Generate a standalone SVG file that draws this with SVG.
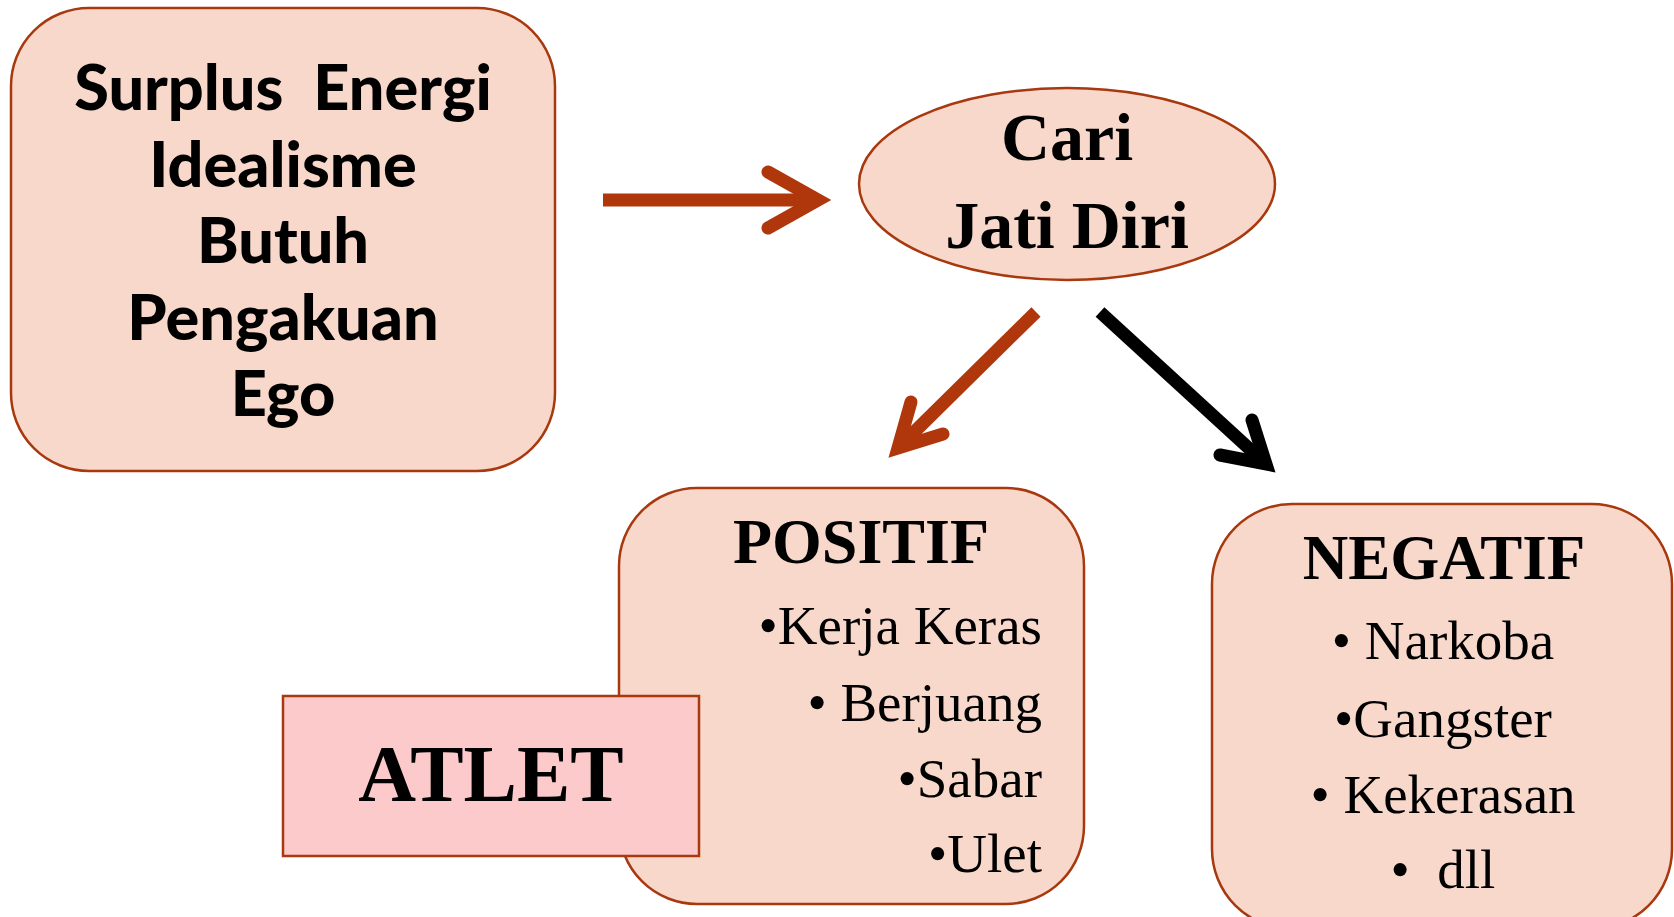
<svg xmlns="http://www.w3.org/2000/svg" width="1674" height="917" viewBox="0 0 1674 917">
<style>
.box{fill:#F8D8CB;stroke:#A8380E;stroke-width:2.5}
.atl{fill:#FCCACA;stroke:#A8380E;stroke-width:2.5}
.hd{font-family:"Lato","Open Sans",sans-serif;font-weight:900;font-size:63px;fill:#000;text-anchor:middle}
.ser{font-family:"Liberation Serif","Times New Roman",serif;fill:#000}
.b{font-weight:bold}
.red{stroke:#B0360C;fill:none;stroke-width:13}
.blk{stroke:#000;fill:none;stroke-width:13}
</style>
<g id="node-surplus">
<rect class="box" x="11" y="8" width="544" height="463" rx="78" ry="78"/>
<text class="hd" x="283" y="110" xml:space="preserve">Surplus  Energi</text>
<text class="hd" x="283" y="187">Idealisme</text>
<text class="hd" x="283" y="263">Butuh</text>
<text class="hd" x="283" y="340">Pengakuan</text>
<text class="hd" x="283" y="416">Ego</text>
</g>
<g id="node-cari">
<ellipse class="box" cx="1067" cy="184" rx="208" ry="96"/>
<text class="ser b" x="1067" y="160" font-size="68" text-anchor="middle">Cari</text>
<text class="ser b" x="1067" y="248" font-size="68" text-anchor="middle">Jati Diri</text>
</g>
<g id="node-positif">
<rect class="box" x="619" y="488" width="465" height="416" rx="78" ry="78"/>
<text class="ser b" x="861" y="563" font-size="64" text-anchor="middle">POSITIF</text>
<text class="ser" x="1042" y="644" font-size="55" text-anchor="end">•Kerja Keras</text>
<text class="ser" x="1042" y="721" font-size="55" text-anchor="end">• Berjuang</text>
<text class="ser" x="1042" y="797" font-size="55" text-anchor="end">•Sabar</text>
<text class="ser" x="1042" y="872" font-size="55" text-anchor="end">•Ulet</text>
</g>
<g id="node-atlet">
<rect class="atl" x="283" y="696" width="416" height="160"/>
<text class="ser b" x="491" y="801" font-size="80" text-anchor="middle">ATLET</text>
</g>
<g id="node-negatif">
<rect class="box" x="1212" y="504" width="460" height="425" rx="80" ry="80"/>
<text class="ser b" x="1444" y="579" font-size="63" text-anchor="middle">NEGATIF</text>
<text class="ser" x="1443" y="659" font-size="55" text-anchor="middle">• Narkoba</text>
<text class="ser" x="1443" y="737" font-size="55" text-anchor="middle">•Gangster</text>
<text class="ser" x="1443" y="813" font-size="55" text-anchor="middle">• Kekerasan</text>
<text class="ser" x="1443" y="888" font-size="55" text-anchor="middle" xml:space="preserve">•  dll</text>
</g>
<g id="connectors">
<path class="red" d="M603 200 H818"/>
<path class="red" d="M768 172 L818 200 L768 228" stroke-linecap="round" stroke-linejoin="miter"/>
<path class="red" d="M1036 312 L898 448"/>
<path class="red" d="M911 402 L898 448 L943 434" stroke-linecap="round"/>
<path class="blk" d="M1100 312 L1266 464"/>
<path class="blk" d="M1252 420 L1266 464 L1220 455" stroke-linecap="round"/>
</g>
</svg>
